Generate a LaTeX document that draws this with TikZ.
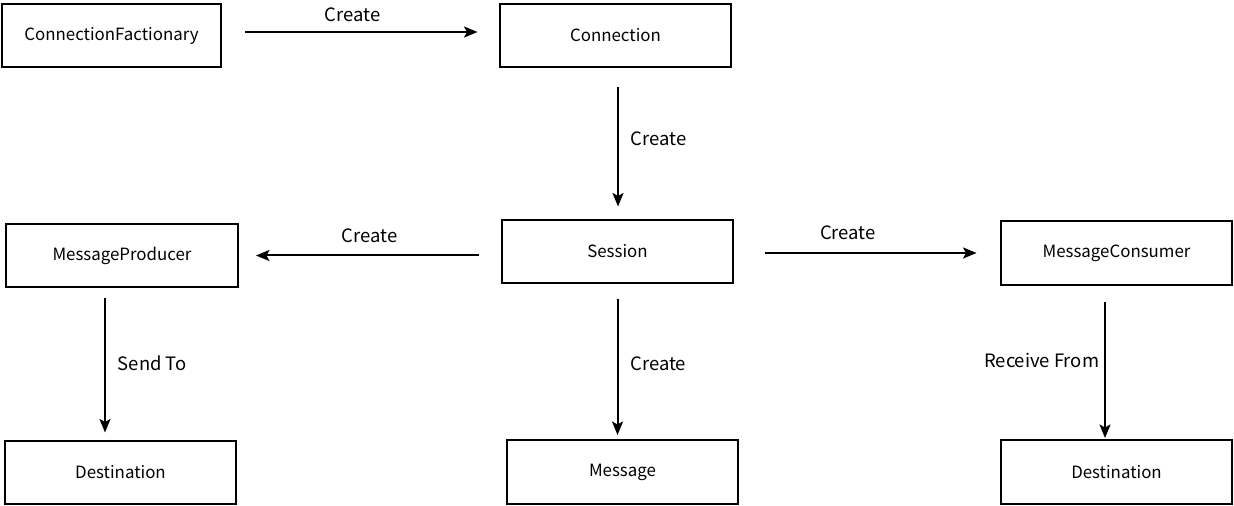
\documentclass[tikz,border=0pt]{standalone}
\usepackage{fontspec}
\setmainfont{Noto Sans CJK SC}
\usetikzlibrary{arrows.meta}
\tikzstyle{entity} = [rectangle, minimum width=4.64cm, minimum height=1.28cm,
                      text centered, draw=black, line width=0.04cm,
                      font=\fontsize{9.6}{11}\selectfont]
\tikzstyle{arrow} = [line width=0.04cm,->,>={Stealth[length=0.27cm,width=0.22cm,inset=0.06cm]}]
\tikzstyle{lbl} = [font=\fontsize{10.5}{12}\selectfont]

\begin{document}
\begin{tikzpicture}[x=0.02cm, y=-0.02cm]
        \useasboundingbox (0,0) rectangle (1234,506);

        %top row
        \node (Factory) [entity, minimum width=4.40cm] at (111.5,35.5) {ConnectionFactionary};
        \node (Connection) [entity] at (615.5,35.5) {Connection};

        %middle row
        \node (Session) [entity] at (617.5,251.5) {Session};
        \node (Producer) [entity] at (122,255.5) {MessageProducer};
        \node (Consumer) [entity] at (1116.5,253) {MessageConsumer};

        %bottom row
        \node (DestLeft) [entity] at (120.5,472.5) {Destination};
        \node (Message) [entity] at (622.5,472) {Message};
        \node (DestRight) [entity] at (1116.5,472) {Destination};

        %Factory to Connection
        \draw [arrow, shorten <=0.46cm, shorten >=0.42cm] ([yshift=0.07cm]Factory.east) -- ([yshift=0.07cm]Factory.east -| Connection.west)
              node [lbl, midway, above, yshift=0.06cm, xshift=-0.16cm] {Create};

        %Connection to Session
        \draw [arrow, shorten <=0.38cm, shorten >=0.24cm] ([xshift=0.05cm]Connection.south) -- ([xshift=0.05cm]Connection.south |- Session.north)
              node [lbl, midway, right, xshift=0.12cm, yshift=0.1cm] {Create};

        %Session to Producer and Consumer
        \draw [arrow, shorten <=0.44cm, shorten >=0.34cm] (Session.west |- Producer.east) -- (Producer.east)
              node [lbl, midway, above, yshift=0.12cm] {Create};
        \draw [arrow, shorten <=0.62cm, shorten >=0.46cm] (Session.east |- Consumer.west) -- (Consumer.west)
              node [lbl, midway, above, yshift=0.12cm, xshift=-0.38cm] {Create};

        %Session to Message
        \draw [arrow, shorten <=0.30cm, shorten >=0.08cm] (Session.south) -- (Session.south |- Message.north)
              node [lbl, midway, right, xshift=0.12cm, yshift=-0.04cm] {Create};

        %Producer to Destination
        \draw [arrow, shorten <=0.20cm, shorten >=0.14cm] ([xshift=-0.34cm]Producer.south) -- ([xshift=-0.34cm]Producer.south |- DestLeft.north)
              node [lbl, midway, right, xshift=0.12cm, yshift=0.02cm] {Send To};

        %Consumer to Destination
        \draw [arrow, shorten <=0.32cm, shorten >=0.02cm] ([xshift=-0.23cm]Consumer.south) -- ([xshift=-0.23cm]Consumer.south |- DestRight.north)
              node [lbl, midway, left, xshift=0.02cm, yshift=0.05cm] {Receive From};

\end{tikzpicture}
\end{document}
